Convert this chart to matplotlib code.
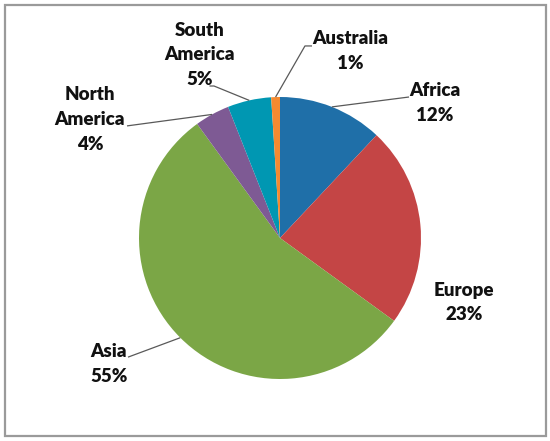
import matplotlib
matplotlib.use("Agg")
import matplotlib.pyplot as plt
import numpy as np
from matplotlib.patches import Rectangle

# ---- data ----
categories = ["Africa", "Europe", "Asia", "North\nAmerica", "South\nAmerica", "Australia"]
values = [12, 23, 55, 4, 5, 1]
colors = ["#1F6FA8", "#C44545", "#7BA646", "#7E5A94", "#0097B2", "#F58A30"]

# ---- layout (label centre offsets in pie-radius units, leader line elbow) ----
label_pos = [(1.10, 0.955), (1.305, -0.457), (-1.213, -0.894),
             (-1.348, 0.84), (-0.571, 1.30), (0.50, 1.325)]
leader_end = [(0.915, 1.0), None, (-1.078, -0.845),
              (-1.085, 0.795), (-0.468, 1.078), (0.177, 1.362)]
leader_tail = [None, None, None, None, (-0.50, 1.078), (0.227, 1.362)]

W, H = 550, 441
cx, cy, r = 280, 238, 141

fig = plt.figure(figsize=(W / 100, H / 100), dpi=100)
ax = fig.add_axes([0, 0, 1, 1])

wedges, _ = ax.pie(values, colors=colors, startangle=90, counterclock=False,
                   radius=1.0, center=(0, 0), frame=True,
                   wedgeprops=dict(linewidth=0))
ax.set_xlim(-cx / r, (W - cx) / r)
ax.set_ylim(-(H - cy) / r, cy / r)
ax.set_aspect("auto")
ax.axis("off")

total = sum(values)
cum = 0
for i, (cat, v) in enumerate(zip(categories, values)):
    mid = cum + v / 2
    cum += v
    ang = np.deg2rad(90 - 360 * mid / total)
    ex, ey = np.cos(ang), np.sin(ang)
    pct = f"{round(100 * v / total)}%"
    lx, ly = label_pos[i]
    ax.text(lx, ly, f"{cat}\n{pct}", ha="center", va="center",
            fontsize=13.5, fontweight="heavy", family=["Lato", "DejaVu Sans"],
            color="#111111", linespacing=1.55)
    if leader_end[i] is not None:
        xs = [ex, leader_end[i][0]]
        ys = [ey, leader_end[i][1]]
        if leader_tail[i] is not None:
            xs.append(leader_tail[i][0])
            ys.append(leader_tail[i][1])
        ax.plot(xs, ys, color="#595959", lw=0.9, solid_capstyle="butt")

# border
fig.patches.append(Rectangle((4.5 / W, 5.5 / H), 541 / W, 431 / H, transform=fig.transFigure,
                             fill=False, edgecolor="#9A9A9A", lw=1.6, zorder=1))

fig.savefig("out.png", dpi=100)
